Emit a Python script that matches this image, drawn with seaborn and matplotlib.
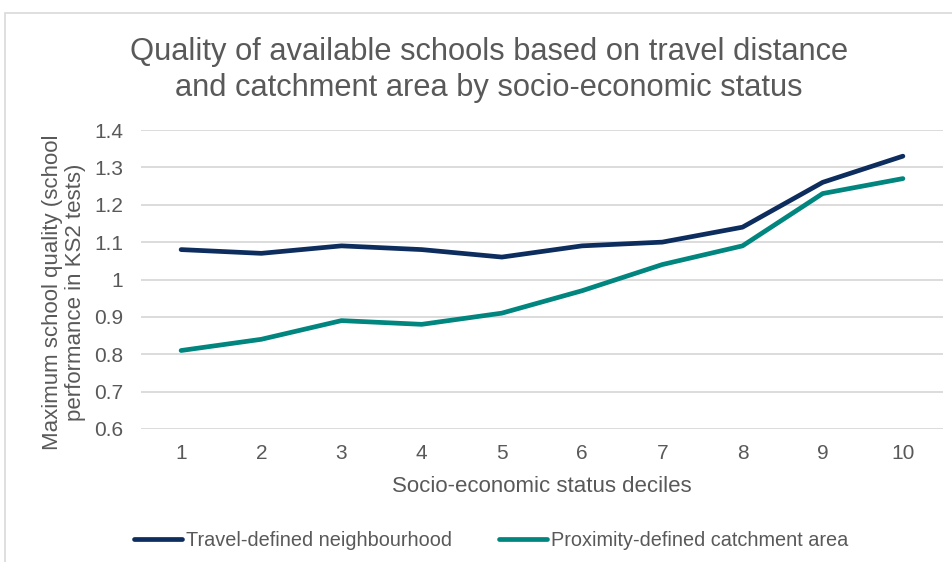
import matplotlib
matplotlib.use("Agg")
import matplotlib.pyplot as plt
from matplotlib.patches import Rectangle
from matplotlib.lines import Line2D
import seaborn as sns
import pandas as pd

deciles = [1, 2, 3, 4, 5, 6, 7, 8, 9, 10]
travel_defined = [1.08, 1.07, 1.09, 1.08, 1.06, 1.09, 1.10, 1.14, 1.26, 1.33]
proximity_defined = [0.81, 0.84, 0.89, 0.88, 0.91, 0.97, 1.04, 1.09, 1.23, 1.27]
series_names = ["Travel-defined neighbourhood", "Proximity-defined catchment area"]
y_ticks = [0.6, 0.7, 0.8, 0.9, 1.0, 1.1, 1.2, 1.3, 1.4]
y_tick_labels = ["0.6", "0.7", "0.8", "0.9", "1", "1.1", "1.2", "1.3", "1.4"]

colors = {series_names[0]: "#0c2d5e", series_names[1]: "#00857f"}
text_color = "#595959"
grid_color = "#d9d9d9"

df = pd.DataFrame({
    "decile": deciles * 2,
    "value": travel_defined + proximity_defined,
    "series": [series_names[0]] * len(deciles) + [series_names[1]] * len(deciles),
})

sns.set_theme(style="white")
plt.rcParams["font.family"] = ["Liberation Sans", "DejaVu Sans"]

fig = plt.figure(figsize=(9.52, 5.62), dpi=100)
fig.patch.set_facecolor("white")

# chart frame
fig.add_artist(Rectangle((5 / 952, -0.1), 1.2, 1 - 13 / 562 + 0.1,
                         transform=fig.transFigure, fill=False,
                         edgecolor=grid_color, linewidth=1.2))

ax = fig.add_axes([141 / 952, 1 - 429 / 562, 802 / 952, 299 / 562])

# categorical positions: point i sits in the middle of its slot
df["pos"] = df["decile"] - 1
sns.lineplot(data=df, x="pos", y="value", hue="series", palette=colors,
             linewidth=3.4, ax=ax, legend=False, solid_capstyle="round")

ax.set_xlim(-0.5, len(deciles) - 0.5)
ax.set_ylim(0.6, 1.4)
ax.set_yticks(y_ticks)
ax.set_yticklabels(y_tick_labels)
ax.set_xticks(range(len(deciles)))
ax.set_xticklabels([str(d) for d in deciles])
ax.yaxis.grid(True, color=grid_color, linewidth=1.3)
ax.set_axisbelow(True)
for s in ax.spines.values():
    s.set_visible(False)
ax.tick_params(axis="both", length=0, labelsize=15, labelcolor=text_color)
ax.tick_params(axis="x", pad=11)
ax.tick_params(axis="y", pad=13)

ax.set_xlabel("Socio-economic status deciles", fontsize=16, color=text_color, labelpad=9)
ax.set_ylabel("")

fig.text(64 / 952, 1 - 292 / 562,
         "Maximum school quality (school\nperformance in KS2 tests)",
         rotation=90, ha="center", va="center", multialignment="center",
         fontsize=16, color=text_color, linespacing=1.1)

fig.text(489 / 952, 1 - 70 / 562,
         "Quality of available schools based on travel distance\nand catchment area by socio-economic status",
         ha="center", va="center", fontsize=22.2, color=text_color, linespacing=1.25)

handles = [Line2D([0], [0], color=colors[n], linewidth=3.4, solid_capstyle="round") for n in series_names]
fig.legend(handles, series_names, loc="center", bbox_to_anchor=(491 / 952, 1 - 540 / 562),
           ncol=2, frameon=False, fontsize=14.3, labelcolor=text_color,
           handlelength=2.4, handletextpad=0.2, columnspacing=2.4)

fig.savefig("out.png", dpi=100, facecolor="white")
